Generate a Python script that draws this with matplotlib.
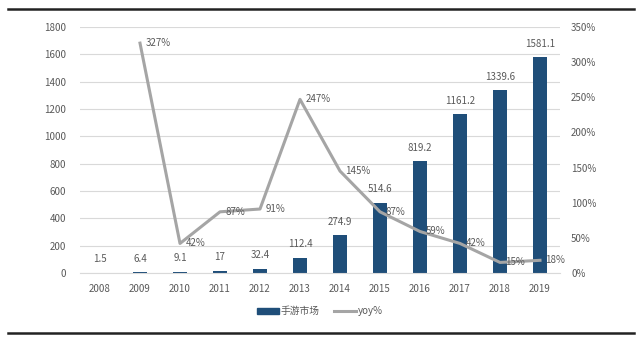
import matplotlib
matplotlib.use("Agg")
import matplotlib.pyplot as plt
from matplotlib.lines import Line2D
from matplotlib.patches import Patch

years = ["2008", "2009", "2010", "2011", "2012", "2013", "2014", "2015", "2016", "2017", "2018", "2019"]
market = [1.5, 6.4, 9.1, 17, 32.4, 112.4, 274.9, 514.6, 819.2, 1161.2, 1339.6, 1581.1]
market_labels = ["1.5", "6.4", "9.1", "17", "32.4", "112.4", "274.9", "514.6", "819.2", "1161.2", "1339.6", "1581.1"]
yoy_years = years[1:]
yoy = [327, 42, 87, 91, 247, 145, 87, 59, 42, 15, 18]

plt.rcParams['font.family'] = ['Noto Sans CJK SC', 'DejaVu Sans']
bar_color = '#1F4E79'
line_color = '#A5A5A5'
txt = '#595959'

fig = plt.figure(figsize=(6.4, 3.37), dpi=100)
ax = fig.add_axes([0.125, 0.19, 0.75, 0.73])
ax2 = ax.twinx()

x = list(range(len(years)))
ax.bar(x, market, width=0.33, color=bar_color, zorder=2)
for xi, v, lab in zip(x, market, market_labels):
    ax.annotate(lab, (xi, v), xytext=(0, 6), textcoords='offset points',
                ha='center', va='bottom', fontsize=7, color=txt)
ax.set_ylim(0, 1800)
ax.set_yticks(range(0, 1801, 200))
ax.set_xlim(-0.5, len(years) - 0.5)
ax.set_xticks(x)
ax.set_xticklabels(years)
ax.grid(axis='y', color='#D9D9D9', linewidth=0.8, zorder=0)
ax.set_axisbelow(True)

yx = x[1:]
ax2.plot(yx, yoy, color=line_color, linewidth=2.2, zorder=3)
for xi, v in zip(yx, yoy):
    ax2.annotate(f"{v}%", (xi, v), xytext=(4, 0), textcoords='offset points',
                 ha='left', va='center', fontsize=7, color=txt)
ax2.set_ylim(0, 350)
ax2.set_yticks(range(0, 351, 50))
ax2.set_yticklabels([f"{t}%" for t in range(0, 351, 50)])

for a in (ax, ax2):
    for s in a.spines.values():
        s.set_visible(False)
    a.tick_params(length=0, labelsize=7, colors=txt)
ax.spines['bottom'].set_visible(True)
ax.spines['bottom'].set_color('#D9D9D9')
ax.tick_params(axis='x', pad=8)
ax.tick_params(axis='y', pad=10)
ax2.tick_params(axis='y', pad=8)

handles = [Patch(color=bar_color), Line2D([0], [0], color=line_color, linewidth=2.2)]
fig.legend(handles, ['手游市场', 'yoy%'], loc='center', bbox_to_anchor=(0.5, 0.077),
           ncol=2, frameon=False, fontsize=7, labelcolor=txt,
           handlelength=2.2, handleheight=0.6, columnspacing=1.5, handletextpad=0.2)

fig.add_artist(Line2D([0.012, 0.99], [1 - 9/337, 1 - 9/337], color='#222222', linewidth=1.8))
fig.add_artist(Line2D([0.012, 0.99], [1 - 333/337, 1 - 333/337], color='#222222', linewidth=1.8))

fig.savefig('out.png', dpi=100)
